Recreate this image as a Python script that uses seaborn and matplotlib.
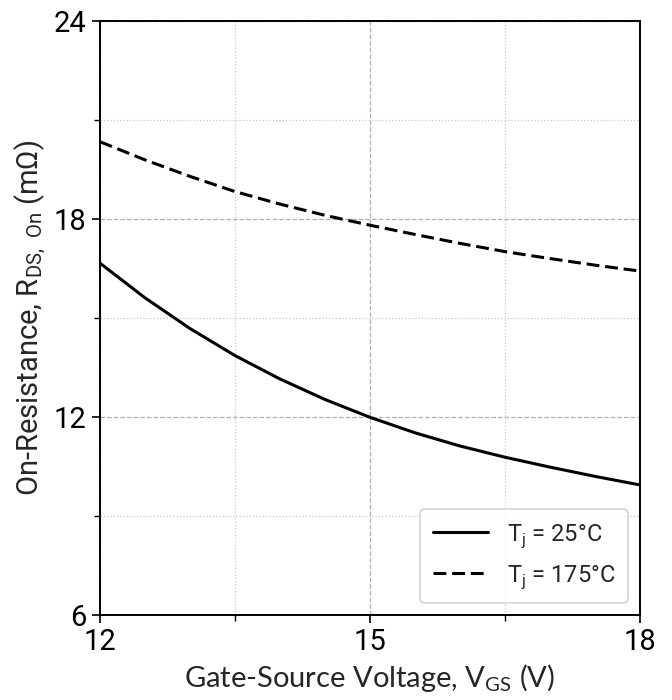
import numpy as np
import pandas as pd
import matplotlib
matplotlib.use("Agg")
import matplotlib.pyplot as plt
import seaborn as sns
from matplotlib.ticker import MultipleLocator

# datos
vgs = [12, 12.5, 13, 13.5, 14, 14.5, 15, 15.5, 16, 16.5, 17, 17.5, 18]
r_25 = [16.67, 15.62, 14.69, 13.87, 13.16, 12.54, 12.0, 11.53, 11.13, 10.79, 10.49, 10.21, 9.95]
r_175 = [20.35, 19.8, 19.3, 18.84, 18.46, 18.12, 17.82, 17.54, 17.27, 17.02, 16.81, 16.61, 16.43]
labels = ["T$_\\mathregular{j}$ = 25°C", "T$_\\mathregular{j}$ = 175°C"]

df = pd.DataFrame({
    "vgs": vgs * 2,
    "r": r_25 + r_175,
    "serie": [labels[0]] * len(vgs) + [labels[1]] * len(vgs),
})

sns.set_style("white")
narrow = ["Roboto", "DejaVu Sans"]
plt.rcParams["font.family"] = ["Lato", "DejaVu Sans"]

fig = plt.figure(figsize=(6.72, 7.0), dpi=100)
ax = fig.add_axes([0.1488, 0.121, 0.8036, 0.8486])

sns.lineplot(data=df, x="vgs", y="r", hue="serie", style="serie",
             palette=["black", "black"], dashes=[(None, None), (4.2, 1.9)],
             linewidth=2.2, ax=ax)

ax.set_xlim(12, 18)
ax.set_ylim(6, 24)
ax.xaxis.set_major_locator(MultipleLocator(3))
ax.xaxis.set_minor_locator(MultipleLocator(1.5))
ax.yaxis.set_major_locator(MultipleLocator(6))
ax.yaxis.set_minor_locator(MultipleLocator(3))
ax.grid(True, which="major", color="#b0b0b0", linestyle="--", linewidth=0.9)
ax.grid(True, which="minor", color="#c8c8c8", linestyle=":", linewidth=0.9)
ax.tick_params(which="major", direction="out", length=6, width=1.2, colors="black", bottom=True, left=True)
ax.tick_params(which="minor", direction="out", length=4, width=1.0, colors="black", bottom=True, left=True)
for s in ax.spines.values():
    s.set_color("black")
    s.set_linewidth(1.4)

for lab in ax.get_xticklabels() + ax.get_yticklabels():
    lab.set_family(narrow)
    lab.set_fontsize(21)

ax.set_xlabel("Gate-Source Voltage, V$_\\mathregular{GS}$ (V)", fontsize=21, labelpad=4)
ax.set_ylabel("On-Resistance, R$_\\mathregular{DS,\\ On}$ (m\u03a9)", fontsize=21, labelpad=4,
              family=narrow)

leg = ax.legend(loc="lower right", frameon=True, fancybox=True,
                handlelength=2.3, borderpad=0.55, labelspacing=0.55,
                prop={"family": narrow, "size": 17})
leg.get_frame().set_edgecolor("#cccccc")
leg.get_frame().set_linewidth(1.2)
for line in leg.get_lines():
    line.set_linewidth(2.2)

fig.savefig("out.png", dpi=100)
